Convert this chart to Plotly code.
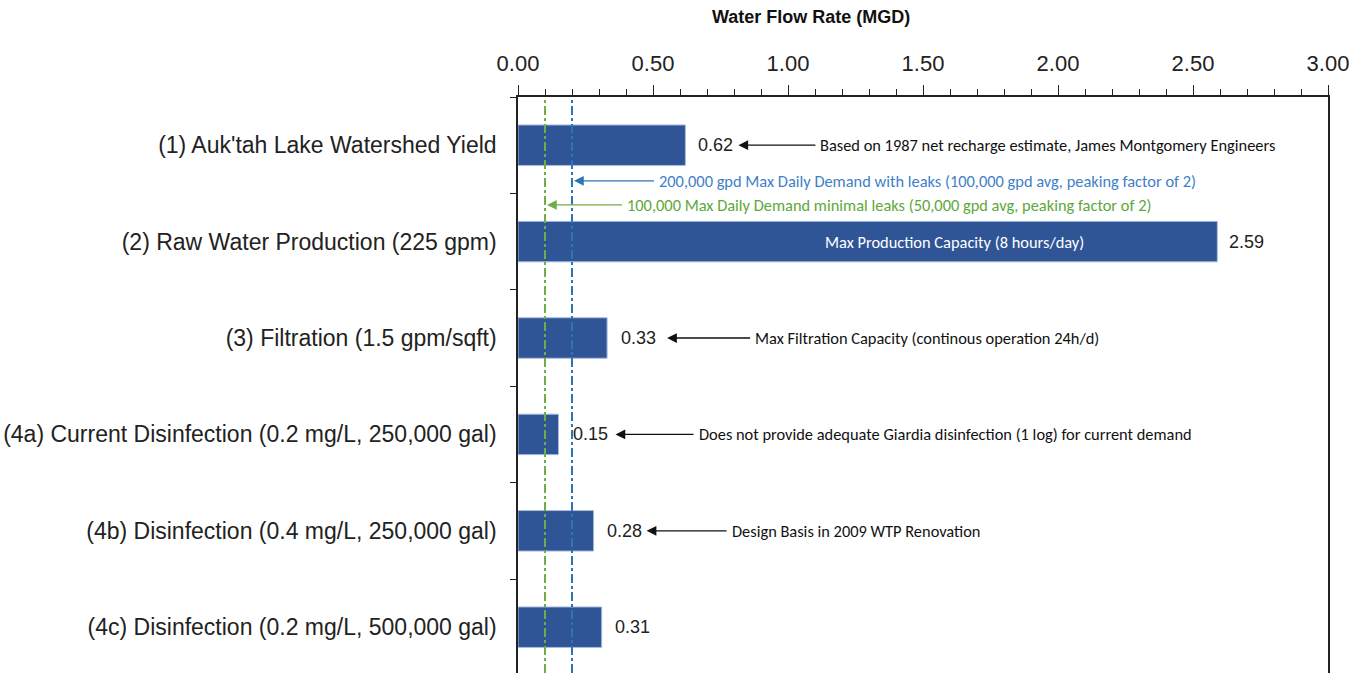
import plotly.graph_objects as go

# Capacity of each stage of the water system, million gallons per day
categories = [
    "(1) Auk'tah Lake Watershed Yield",
    "(2) Raw Water Production (225 gpm)",
    "(3) Filtration (1.5 gpm/sqft)",
    "(4a) Current Disinfection (0.2 mg/L, 250,000 gal)",
    "(4b) Disinfection (0.4 mg/L, 250,000 gal)",
    "(4c) Disinfection (0.2 mg/L, 500,000 gal)",
]
flow_mgd = [0.62, 2.59, 0.33, 0.15, 0.28, 0.31]

# Notes pointing at a bar's value label
notes = [
    "Based on 1987 net recharge estimate, James Montgomery Engineers",
    None,
    "Max Filtration Capacity (continous operation 24h/d)",
    "Does not provide adequate Giardia disinfection (1 log) for current demand",
    "Design Basis in 2009 WTP Renovation",
    None,
]
inside_note = "Max Production Capacity (8 hours/day)"

# Demand reference lines (MGD)
demand_values = [0.2, 0.1]
demand_labels = [
    "200,000 gpd Max Daily Demand with leaks (100,000 gpd avg, peaking factor of 2)",
    "100,000 Max Daily Demand minimal leaks (50,000 gpd avg, peaking factor of 2)",
]
demand_colors = ["#2E75B6", "#70AD47"]
demand_text_colors = ["#3F7FC8", "#5CA83A"]
demand_label_pos = [0.37, 0.62]  # vertical position between first two categories

x_ticks = [0.0, 0.5, 1.0, 1.5, 2.0, 2.5, 3.0]
x_tick_text = ["0.00", "0.50", "1.00", "1.50", "2.00", "2.50", "3.00"]

BAR = "#2F5597"
LABEL_FONT = "Liberation Sans, Arial, sans-serif"
NOTE_FONT = "Carlito, Lato, sans-serif"
NOTE_SIZE = 16.4

fig = go.Figure(
    go.Bar(
        x=flow_mgd,
        y=categories,
        orientation="h",
        width=0.42,
        marker=dict(color=BAR, line=dict(color="#A9BCE0", width=1)),
        hoverinfo="x+y",
    )
)

annotations = []
# value labels and arrow notes (pixel offsets from the bar end)
label_shift = [11, 10, 12, 12, 11, 11]
tip_shift = [53, 0, 60, 57, 53, 0]
tail_shift = [133, 0, 146, 138, 136, 0]
for i, (cat, v) in enumerate(zip(categories, flow_mgd)):
    annotations.append(dict(
        x=v, y=cat, xref="x", yref="y", text=f"{v:.2f}", showarrow=False,
        xanchor="left", xshift=label_shift[i],
        font=dict(family=LABEL_FONT, size=18, color="#222222"),
    ))
    if notes[i]:
        annotations.append(dict(
            x=v, y=cat, xref="x", yref="y", text=notes[i], showarrow=True,
            xanchor="left", xshift=tip_shift[i],
            ax=tail_shift[i] - tip_shift[i], ay=0, axref="pixel", ayref="pixel",
            arrowhead=2, arrowsize=1.5, arrowwidth=1.3, arrowcolor="#111111",
            standoff=0, startstandoff=3,
            font=dict(family=NOTE_FONT, size=NOTE_SIZE, color="#111111"),
        ))

annotations.append(dict(
    x=1.615, y=categories[1], xref="x", yref="y", text=inside_note,
    showarrow=False, xanchor="center",
    font=dict(family=NOTE_FONT, size=NOTE_SIZE, color="white"),
))

# demand lines notes
demand_tip = [2, 2]
demand_tail = [85, 80]
shapes = []
for v, lab, c, tc, yp, tp, tl in zip(demand_values, demand_labels, demand_colors,
                                      demand_text_colors, demand_label_pos,
                                      demand_tip, demand_tail):
    shapes.append(dict(
        type="line", xref="x", yref="paper", x0=v, x1=v, y0=0, y1=1,
        line=dict(color=c, width=2, dash="dashdot"), layer="above",
    ))
    annotations.append(dict(
        x=v, y=yp, xref="x", yref="y", text=lab, showarrow=True,
        xanchor="left", xshift=tp, ax=tl - tp, ay=0, axref="pixel", ayref="pixel",
        arrowhead=2, arrowsize=1.5, arrowwidth=1.3, arrowcolor=c,
        standoff=0, startstandoff=3,
        font=dict(family=NOTE_FONT, size=NOTE_SIZE, color=tc),
    ))

# axis title
annotations.append(dict(
    x=0.3617, y=1.139, xref="paper", yref="paper", text="<b>Water Flow Rate (MGD)</b>",
    showarrow=False, xanchor="center", yanchor="middle",
    font=dict(family=LABEL_FONT, size=18, color="#111111"),
))

fig.update_layout(
    width=1366, height=673,
    margin=dict(l=518, r=38, t=97, b=0),
    paper_bgcolor="white", plot_bgcolor="white",
    showlegend=False,
    annotations=annotations,
    shapes=shapes,
    xaxis=dict(
        side="top", range=[0, 3], tickvals=x_ticks, ticktext=x_tick_text,
        ticks="outside", ticklen=10, tickwidth=1, tickcolor="#222222",
        minor=dict(dtick=0.1, ticks="outside", ticklen=6, tickwidth=1, tickcolor="#222222"),
        showline=True, linecolor="#222222", linewidth=1.5,
        showgrid=False, zeroline=False, ticklabelstandoff=5,
        tickfont=dict(family=LABEL_FONT, size=22, color="#222222"),
    ),
    yaxis=dict(
        type="category", categoryorder="array", categoryarray=categories,
        range=[5.475, -0.5], tickson="boundaries",
        ticks="outside", ticklen=6, tickwidth=1, tickcolor="#222222",
        showline=True, linecolor="#222222", linewidth=1.5, mirror=True,
        showgrid=False, zeroline=False, ticklabelstandoff=15,
        tickfont=dict(family=LABEL_FONT, size=23, color="#222222"),
    ),
    bargap=0.58,
)

fig.write_html("out.html")
